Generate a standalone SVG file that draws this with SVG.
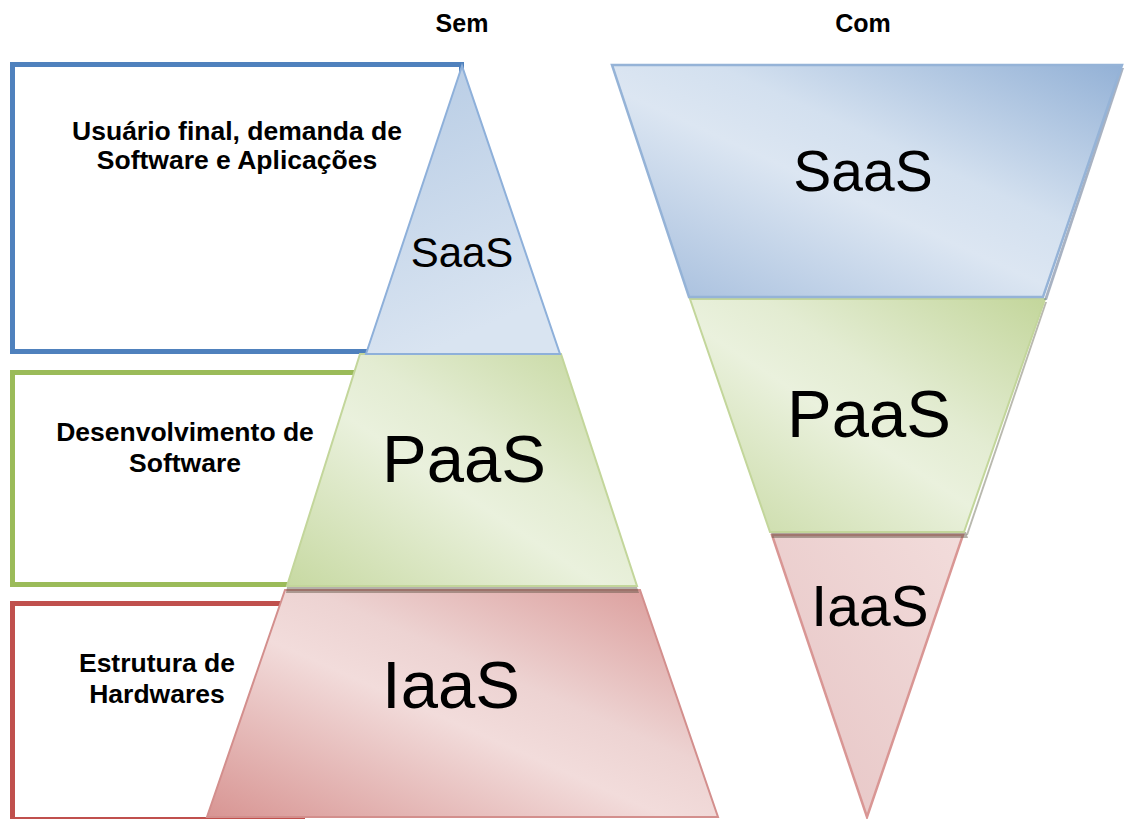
<svg xmlns="http://www.w3.org/2000/svg" width="1124" height="819" viewBox="0 0 1124 819">
<defs>
<linearGradient id="gBlue" x1="0" y1="1" x2="1" y2="0">
<stop offset="0" stop-color="#A3BCDC"/><stop offset="0.45" stop-color="#DCE6F2"/><stop offset="0.6" stop-color="#D3E0EF"/><stop offset="1" stop-color="#93B1D6"/>
</linearGradient>
<linearGradient id="gBlueL" x1="0" y1="0" x2="0.3" y2="1">
<stop offset="0" stop-color="#B6CBE4"/><stop offset="1" stop-color="#D9E4F1"/>
</linearGradient>
<linearGradient id="gGreen" x1="0" y1="1" x2="1" y2="0">
<stop offset="0" stop-color="#C7D9A2"/><stop offset="0.45" stop-color="#EAF1DD"/><stop offset="0.6" stop-color="#E3ECD2"/><stop offset="1" stop-color="#C3D69B"/>
</linearGradient>
<linearGradient id="gRed" x1="0" y1="1" x2="1" y2="0">
<stop offset="0" stop-color="#D89593"/><stop offset="0.45" stop-color="#F2DCDB"/><stop offset="0.6" stop-color="#EDD3D2"/><stop offset="1" stop-color="#D99694"/>
</linearGradient>
<linearGradient id="gRedR" x1="0" y1="1" x2="1" y2="0">
<stop offset="0" stop-color="#E6C4C4"/><stop offset="1" stop-color="#F2DCDB"/>
</linearGradient>
</defs>
<style>
.box{fill:#FFFFFF;stroke-width:5}
.lbl{font-family:"Liberation Sans",Arial,sans-serif;font-weight:bold;font-size:26.5px;fill:#000;text-anchor:middle}
.ttl{font-family:"Liberation Sans",Arial,sans-serif;font-weight:bold;font-size:25px;fill:#000;text-anchor:middle}
.big{font-family:"Liberation Sans",Arial,sans-serif;fill:#000;text-anchor:middle}
.shd{fill:#5A5040;opacity:0.45}
</style>
<rect width="1124" height="819" fill="#FFFFFF"/>
<g id="titles">
<text class="ttl" x="462" y="32">Sem</text>
<text class="ttl" x="863" y="32">Com</text>
</g>
<g id="box-usuario">
<rect class="box" x="12.5" y="64.5" width="449" height="287" stroke="#4F81BD"/>
<text class="lbl" x="237" y="140">Usuário final, demanda de</text>
<text class="lbl" x="237" y="169">Software e Aplicações</text>
</g>
<g id="box-desenvolvimento">
<rect class="box" x="12.5" y="372.5" width="400" height="212" stroke="#9BBB59"/>
<text class="lbl" x="185" y="441">Desenvolvimento de</text>
<text class="lbl" x="185" y="472">Software</text>
</g>
<g id="box-estrutura">
<rect class="box" x="12.5" y="603.5" width="290" height="216" stroke="#C0504D"/>
<text class="lbl" x="157" y="672">Estrutura de</text>
<text class="lbl" x="157" y="703">Hardwares</text>
</g>
<g id="sem-iaas">
<polygon points="285,590 640,590 718,817 207,817" fill="url(#gRed)" stroke="#D38F8D" stroke-width="2"/>
<text class="big" x="451" y="708" font-size="67">IaaS</text>
</g>
<g id="sem-paas">
<polygon class="shd" points="287,587 637,587 639,593 286,593"/>
<polygon points="360,354 561,354 637,586 287,586" fill="url(#gGreen)" stroke="#C3D69B" stroke-width="2"/>
<text class="big" x="464" y="482" font-size="67">PaaS</text>
</g>
<g id="sem-saas">
<polygon points="462,66 366,354 560,354" fill="url(#gBlueL)" stroke="#8EB0DA" stroke-width="2"/>
<text class="big" x="462" y="267" font-size="42">SaaS</text>
</g>
<g id="com-iaas">
<polygon points="772,535 963,535 867,817" fill="url(#gRedR)" stroke="#D99694" stroke-width="2.5"/>
<text class="big" x="870" y="626" font-size="57">IaaS</text>
</g>
<g id="com-paas">
<polygon class="shd" points="771,532 966,532 968,538 772,538"/>
<polygon points="1047,302 968,535 966,535 1045,302" fill="#8A8A7A" opacity="0.6"/>
<polygon points="690,299 1045,299 964,532 770,532" fill="url(#gGreen)" stroke="#C3D69B" stroke-width="2"/>
<text class="big" x="869" y="437" font-size="67">PaaS</text>
</g>
<g id="com-saas">
<polygon points="1124,68 1047,300 1044,300 1121,68" fill="#6E7E9A" opacity="0.6"/>
<polygon points="612,65 1122,65 1043,297 689,297" fill="url(#gBlue)" stroke="#95B3D7" stroke-width="2.5"/>
<text class="big" x="863" y="191" font-size="57">SaaS</text>
</g>
</svg>
